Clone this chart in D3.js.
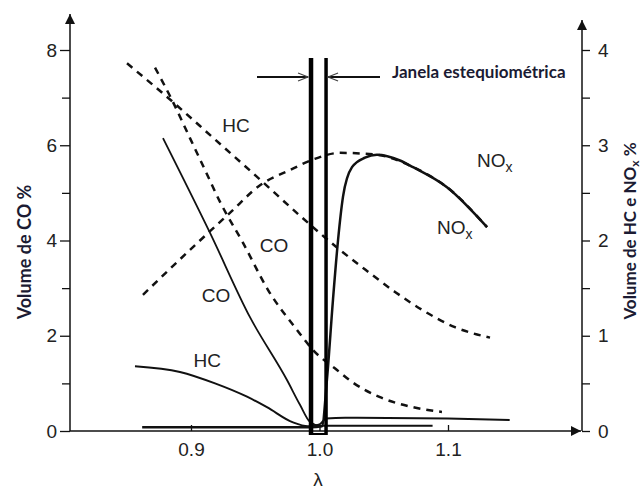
<!DOCTYPE html>
<html>
<head>
<meta charset="utf-8">
<script src="https://cdn.jsdelivr.net/npm/d3@7"></script>
<style>
  body { margin: 0; background: #fff; }
  svg { display: block; }
</style>
</head>
<body>
<div id="grafico"></div>
<script>
// Valores: [lambda, valor]
// CO usa o eixo da esquerda (0-8), HC e NOx usam o eixo da direita (0-4)
var coSolido = [[0.8782, 6.15], [0.9148, 4.16], [0.9459, 2.39], [0.9747, 1.07], [0.9848, 0.55],
                [0.9926, 0.19], [1.0004, 0.11], [1.04, 0.11], [1.088, 0.11]];
var coTracejado = [[0.872, 7.63], [0.8852, 6.95], [0.8992, 6.15], [0.9109, 5.48], [0.9226, 4.81],
                   [0.9405, 3.95], [0.96, 2.96], [0.9825, 2.12], [0.995, 1.70], [1.0136, 1.28],
                   [1.0253, 1.03], [1.0471, 0.71], [1.0728, 0.50], [1.0953, 0.40]];
var hcSolido = [[0.8564, 0.68], [0.8914, 0.62], [0.9187, 0.50], [0.9436, 0.36], [0.9591, 0.25],
                [0.9794, 0.09], [0.991, 0.05], [1.0, 0.07], [1.005, 0.13], [1.02, 0.14],
                [1.1, 0.13], [1.148, 0.115]];
var hcTracejado = [[0.8502, 3.86], [0.8837, 3.48], [0.9171, 3.08], [0.9537, 2.64], [0.9848, 2.26],
                   [1.016, 1.90], [1.037, 1.68], [1.0588, 1.46], [1.0813, 1.26], [1.1054, 1.09],
                   [1.1327, 0.98]];
var noxSolido = [[0.862, 0.04], [0.93, 0.04], [0.993, 0.04], [1.0019, 0.05], [1.0058, 0.54],
                 [1.0105, 1.38], [1.0144, 2.0], [1.0183, 2.46], [1.0253, 2.77], [1.0354, 2.87],
                 [1.0447, 2.90], [1.0626, 2.84], [1.0728, 2.77], [1.0992, 2.56], [1.1304, 2.14]];
var noxTracejado = [[0.8626, 1.43], [0.907, 2.0], [0.9303, 2.29], [0.9537, 2.58], [0.977, 2.74],
                    [0.995, 2.85], [1.016, 2.92], [1.0447, 2.90], [1.0728, 2.77], [1.0992, 2.56],
                    [1.1304, 2.14]];

// Janela estequiométrica (limites em lambda)
var janela = [0.9934, 1.0051];

// Ticks dos eixos
var ticksLambda = [0.9, 1.0, 1.1];
var ticksCO = [0, 1, 2, 3, 4, 5, 6, 7, 8];
var ticksHCNOx = [0, 0.5, 1, 1.5, 2, 2.5, 3, 3.5, 4];

// Rótulos das curvas: [texto, lambda, valor no eixo da esquerda]
var rotulos = [["HC", 0.935, 6.28], ["CO", 0.9646, 3.76], ["CO", 0.9195, 2.71], ["HC", 0.9126, 1.34]];
var rotulosNox = [[1.1226, 5.54], [1.0914, 4.14]];

var largura = 643, altura = 489;
var corTexto = "#222";
var corTitulo = "#1b1b33";
var fonte = "'Liberation Sans', Arial, sans-serif";
var fonteTitulo = "Lato, 'Open Sans', sans-serif";

var svg = d3.select("#grafico")
    .append("svg")
    .attr("width", largura)
    .attr("height", altura);

var x = d3.scaleLinear().domain([0.9, 1.1]).range([191, 448]);
var yCO = d3.scaleLinear().domain([0, 8]).range([431, 50]);
var yHC = d3.scaleLinear().domain([0, 4]).range([431, 50]);

var eixoEsq = 70, eixoDir = 582, eixoBase = 431;

// Marcador de seta preenchida para os eixos
var defs = svg.append("defs");
defs.append("marker")
    .attr("id", "seta")
    .attr("viewBox", "0 0 10 10")
    .attr("refX", 10).attr("refY", 5)
    .attr("markerWidth", 14).attr("markerHeight", 10)
    .attr("markerUnits", "userSpaceOnUse")
    .attr("orient", "auto")
    .append("path")
    .attr("d", "M0,0 L10,5 L0,10 Z")
    .attr("fill", "#111");

// Linhas dos eixos
svg.append("line")
    .attr("x1", eixoEsq).attr("y1", eixoBase).attr("x2", eixoEsq).attr("y2", 14)
    .attr("stroke", "#111").attr("stroke-width", 1.5)
    .attr("marker-end", "url(#seta)");
svg.append("line")
    .attr("x1", eixoDir).attr("y1", eixoBase).attr("x2", eixoDir).attr("y2", 20)
    .attr("stroke", "#111").attr("stroke-width", 1.5)
    .attr("marker-end", "url(#seta)");
svg.append("line")
    .attr("x1", eixoEsq).attr("y1", eixoBase).attr("x2", eixoDir - 1).attr("y2", eixoBase)
    .attr("stroke", "#111").attr("stroke-width", 1.5)
    .attr("marker-end", "url(#seta)");

// Eixo da esquerda (CO)
var gEsq = svg.append("g")
    .attr("transform", "translate(" + eixoEsq + ",0)")
    .call(d3.axisLeft(yCO).tickValues(ticksCO).tickSize(10).tickSizeOuter(0).tickPadding(3)
        .tickFormat(function(d) { return d % 2 === 0 ? d : ""; }));

// Eixo da direita (HC e NOx)
var gDir = svg.append("g")
    .attr("transform", "translate(" + eixoDir + ",0)")
    .call(d3.axisRight(yHC).tickValues(ticksHCNOx).tickSize(8).tickSizeOuter(0).tickPadding(8)
        .tickFormat(function(d) { return d % 1 === 0 ? d : ""; }));

// Eixo lambda (ticks para dentro)
var gBase = svg.append("g")
    .attr("transform", "translate(0," + eixoBase + ")")
    .call(d3.axisBottom(x).tickValues(ticksLambda).tickSize(-6).tickSizeOuter(0).tickPadding(12)
        .tickFormat(d3.format(".1f")));

[gEsq, gDir, gBase].forEach(function(g) {
    g.select(".domain").remove();
    g.selectAll("line").attr("stroke", "#111").attr("stroke-width", 1.3);
    g.selectAll("text")
        .style("font-family", fonte)
        .style("font-size", "19px")
        .attr("fill", corTexto);
});
// os ticks do meio no eixo esquerdo são mais curtos
gEsq.selectAll(".tick").filter(function(d) { return d % 2 !== 0; })
    .select("line").attr("x2", -8);

// lambda
svg.append("text")
    .attr("x", 318).attr("y", 486)
    .attr("text-anchor", "middle")
    .style("font-family", fonte)
    .style("font-size", "19px")
    .attr("fill", corTexto)
    .text("λ");

// Títulos dos eixos
svg.append("text")
    .attr("transform", "translate(31,252) rotate(-90)")
    .attr("text-anchor", "middle")
    .style("font-family", fonteTitulo)
    .style("font-weight", "bold")
    .style("font-size", "18px")
    .attr("fill", corTitulo)
    .text("Volume de CO %");

var tituloDir = svg.append("text")
    .attr("transform", "translate(636,231) rotate(-90)")
    .attr("text-anchor", "middle")
    .style("font-family", fonteTitulo)
    .style("font-weight", "bold")
    .style("font-size", "17px")
    .attr("fill", corTitulo);
tituloDir.append("tspan").text("Volume de HC e NO");
tituloDir.append("tspan").attr("dy", 3).style("font-size", "12px").text("x");
tituloDir.append("tspan").attr("dy", -3).text(" %");

// Curvas
var linhaCO = d3.line()
    .x(function(d) { return x(d[0]); })
    .y(function(d) { return yCO(d[1]); })
    .curve(d3.curveMonotoneX);
var linhaHC = d3.line()
    .x(function(d) { return x(d[0]); })
    .y(function(d) { return yHC(d[1]); })
    .curve(d3.curveMonotoneX);

function desenhaCurva(dados, linha, tracejado, espessura) {
    svg.append("path")
        .datum(dados)
        .attr("d", linha)
        .attr("fill", "none")
        .attr("stroke", "#111")
        .attr("stroke-width", espessura)
        .attr("stroke-dasharray", tracejado ? "7,6" : null);
}

desenhaCurva(coTracejado, linhaCO, true, 2.5);
desenhaCurva(hcTracejado, linhaHC, true, 2.5);
desenhaCurva(noxTracejado, linhaHC, true, 2.5);
desenhaCurva(coSolido, linhaCO, false, 1.8);
desenhaCurva(hcSolido, linhaHC, false, 2);
desenhaCurva(noxSolido, linhaHC, false, 2.5);

// Janela estequiométrica: duas linhas verticais grossas
var topoJanela = 58, baseJanela = 435;
svg.append("line")
    .attr("x1", x(janela[0])).attr("x2", x(janela[0]))
    .attr("y1", topoJanela).attr("y2", baseJanela)
    .attr("stroke", "#000").attr("stroke-width", 4.5);
svg.append("line")
    .attr("x1", x(janela[1])).attr("x2", x(janela[1]))
    .attr("y1", topoJanela).attr("y2", baseJanela)
    .attr("stroke", "#000").attr("stroke-width", 3.5);
svg.append("line")
    .attr("x1", x(janela[0])).attr("x2", x(janela[1]))
    .attr("y1", baseJanela - 1).attr("y2", baseJanela - 1)
    .attr("stroke", "#000").attr("stroke-width", 2);

// Setas que apontam para a janela
var ySeta = 77;
function setaAberta(xIni, xFim) {
    var dir = xFim > xIni ? 1 : -1;
    svg.append("line")
        .attr("x1", xIni).attr("x2", xFim).attr("y1", ySeta).attr("y2", ySeta)
        .attr("stroke", "#111").attr("stroke-width", 2);
    svg.append("path")
        .attr("d", "M" + (xFim - dir * 10) + "," + (ySeta - 4) + " L" + xFim + "," + ySeta +
                   " L" + (xFim - dir * 10) + "," + (ySeta + 4))
        .attr("fill", "none").attr("stroke", "#444").attr("stroke-width", 1.2);
}
setaAberta(257, x(janela[0]) - 3);
setaAberta(380, x(janela[1]) + 2);

svg.append("text")
    .attr("x", 392).attr("y", 78)
    .style("font-family", fonteTitulo)
    .style("font-weight", "bold")
    .style("font-size", "17px")
    .attr("fill", corTitulo)
    .text("Janela estequiométrica");

// Rótulos das curvas
rotulos.forEach(function(r) {
    svg.append("text")
        .attr("x", x(r[1])).attr("y", yCO(r[2]))
        .attr("text-anchor", "middle")
        .style("font-family", fonte)
        .style("font-size", "19px")
        .attr("fill", corTexto)
        .text(r[0]);
});
rotulosNox.forEach(function(r) {
    var t = svg.append("text")
        .attr("x", x(r[0])).attr("y", yCO(r[1]))
        .style("font-family", fonte)
        .style("font-size", "19px")
        .attr("fill", corTexto);
    t.append("tspan").text("NO");
    t.append("tspan").attr("dy", 5).style("font-size", "14px").text("x");
});
</script>
</body>
</html>
